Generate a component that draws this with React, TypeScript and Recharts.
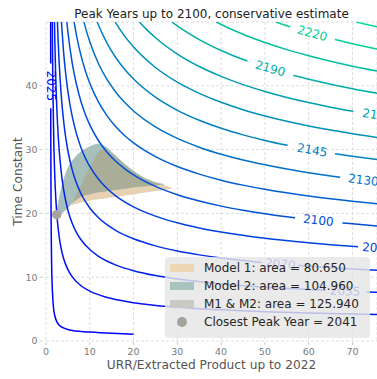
import { ComposedChart, Line, Area, Scatter, XAxis, YAxis, CartesianGrid } from 'recharts';

type Pt = [number, number | null];

// contour levels (peak year) and their winter-colormap colours
const levels = [2025, 2040, 2055, 2070, 2085, 2100, 2115, 2130, 2145, 2160, 2175, 2190, 2205, 2220, 2235];
const lineColors = [
  '#0000ff', '#0010f7', '#0020ef', '#0030e7', '#0040df', '#0050d7', '#0060cf', '#0070c7',
  '#0080bf', '#008fb7', '#009faf', '#00afa7', '#00bf9f', '#00cf97', '#00df8f',
];

// [URR/extracted, time constant]; null = gap left for the inline label
const c2025: Pt[] = [[1.062, 50], [1.0714, 43.5], [1.078, null], [1.0857, 36.5], [1.1, 31.5], [1.15, 21.5], [1.2, 16.5], [1.3, 11.4], [1.4, 8.9], [1.5, 7.4], [1.7, 5.3], [2, 4.0], [2.5, 3.0], [3, 2.5], [4, 2.05], [5, 1.8], [6, 1.65], [8, 1.5], [10, 1.4], [15, 1.2], [20, 1.05]];
const c2040: Pt[] = [[1.433, 50], [1.5, 44.39], [1.6, 38.3], [1.8, 30.62], [2, 25.97], [2.2, 22.83], [2.5, 19.64], [3, 16.38], [3.5, 14.37], [4, 12.98], [5, 11.18], [6, 10.05], [8, 8.66], [10, 7.82], [14, 6.82], [20, 6.01], [30, 5.29], [40, 4.88], [50, 4.6], [60, 4.4], [70, 4.24], [76, 4.16]];
const c2055: Pt[] = [[1.935, 50], [2, 47.61], [2.2, 41.85], [2.5, 36.01], [2.8, 32.05], [3, 30.04], [3.5, 26.34], [4, 23.8], [5, 20.5], [6, 18.42], [7, 16.96], [8, 15.87], [10, 14.33], [12, 13.28], [14, 12.5], [16, 11.9], [20, 11.02], [25, 10.25], [30, 9.7], [40, 8.95], [50, 8.44], [60, 8.06], [63.8, 7.94], [68.3, null], [73.2, 7.69], [76, 7.62]];
const c2070: Pt[] = [[2.612, 50], [2.8, 46.62], [3, 43.69], [3.5, 38.31], [4, 34.62], [4.5, 31.91], [5, 29.82], [6, 26.79], [7, 24.67], [8, 23.08], [10, 20.85], [12, 19.32], [14, 18.19], [16, 17.31], [20, 16.02], [25, 14.91], [30, 14.11], [35, 13.5], [40, 13.01], [45, 12.61], [49.3, 12.31], [53.5, null], [57.6, 11.84], [60, 11.72], [65, 11.5], [70, 11.3], [76, 11.08]];
const c2085: Pt[] = [[3.525, 50], [4, 45.44], [4.5, 41.89], [5, 39.14], [6, 35.16], [7, 32.38], [8, 30.3], [9, 28.67], [10, 27.36], [12, 25.35], [14, 23.87], [16, 22.72], [20, 21.03], [25, 19.57], [30, 18.52], [35, 17.72], [40, 17.08], [50, 16.1], [60, 15.39], [65, 15.09], [71.3, 14.76]];
const c2100: Pt[] = [[4.759, 50], [5, 48.46], [6, 43.53], [7, 40.08], [8, 37.51], [9, 35.5], [10, 33.87], [12, 31.39], [14, 29.56], [16, 28.13], [18, 26.99], [20, 26.04], [25, 24.23], [30, 22.93], [35, 21.94], [40, 21.14], [45, 20.49], [50, 19.94], [55, 19.46], [56.9, 19.3], [62.2, null], [67.7, 18.5], [70, 18.36], [76, 18.01]];
const c2115: Pt[] = [[6.42, 50], [7, 47.79], [8, 44.72], [9, 42.33], [10, 40.39], [12, 37.43], [14, 35.24], [16, 33.54], [18, 32.18], [20, 31.04], [25, 28.89], [30, 27.34], [35, 26.16], [40, 25.21], [45, 24.43], [50, 23.77], [60, 22.71], [70, 21.89], [76, 21.47]];
const c2130: Pt[] = [[8.67, 50], [9, 49.15], [10, 46.9], [12, 43.46], [14, 40.92], [16, 38.95], [18, 37.37], [20, 36.05], [25, 33.55], [30, 31.75], [35, 30.38], [40, 29.28], [45, 28.37], [50, 27.61], [55, 26.95], [60, 26.38], [65, 25.87], [67.2, 25.67]];
const c2145: Pt[] = [[11.7, 50], [12, 49.5], [14, 46.61], [16, 44.36], [18, 42.55], [20, 41.06], [25, 38.21], [30, 36.16], [35, 34.6], [40, 33.34], [45, 32.31], [50, 31.44], [55.2, 30.67], [60.8, null], [66, 29.36], [70, 28.95], [76, 28.4]];
const c2160: Pt[] = [[15.8, 50], [16, 49.77], [18, 47.74], [20, 46.07], [25, 42.87], [30, 40.57], [35, 38.82], [40, 37.41], [45, 36.25], [50, 35.28], [55, 34.44], [60, 33.71], [65, 33.06], [70, 32.48], [76, 31.87]];
const c2175: Pt[] = [[21.33, 50], [23, 48.8], [25, 47.53], [30, 44.98], [35, 43.03], [40, 41.48], [45, 40.19], [50, 39.11], [55, 38.18], [60, 37.37], [65, 36.65], [70.2, 35.99]];
const c2190: Pt[] = [[28.79, 50], [30, 49.39], [35, 47.25], [40, 45.54], [45, 44.13], [46, 43.88], [51.2, null], [56.5, 41.64], [60, 41.03], [65, 40.25], [70, 39.54], [76, 38.79]];
const c2205: Pt[] = [[38.86, 50], [40, 49.61], [45, 48.07], [50, 46.78], [55, 45.67], [60, 44.7], [65, 43.84], [70, 43.07], [76, 42.26]];
const c2220: Pt[] = [[52.46, 50], [55, 49.41], [55.8, 49.23], [60.8, null], [66, 47.26], [70, 46.6], [76, 45.72]];
const c2235: Pt[] = [[70.81, 50], [73, 49.64], [76, 49.18]];

const contours = [c2025, c2040, c2055, c2070, c2085, c2100, c2115, c2130, c2145, c2160, c2175, c2190, c2205, c2220, c2235];

// inline contour labels: [x, tau, level index, rotation]
const labelPts: [number, number, number, number][] = [
  [1.078, 40, 0, 90],
  [53.5, 12.06, 3, 4.7],
  [68.3, 7.8, 2, 2.3],
  [75.7, 14.56, 4, 3.8],
  [62.2, 18.9, 5, 6],
  [72.5, 25.21, 7, 6.8],
  [60.8, 29.9, 8, 10],
  [75.7, 35.36, 10, 9.3],
  [51.2, 42.7, 11, 16],
  [60.8, 48.2, 13, 15.5],
];

// feasible regions: [x, low tau, high tau]
const model1: [number, number, number][] = [[5.9, 21.3, 21.4], [7, 21.5, 23.0], [8, 21.7, 24.5], [10, 22.0, 27.2], [12, 22.2, 29.6], [13.5, 22.35, 30.2], [16, 22.6, 28.8], [19, 22.9, 27.0], [22, 23.2, 25.6], [25, 23.5, 24.8], [27, 23.7, 24.4], [28.8, 23.9, 24.0]];
const model2: [number, number, number][] = [[2.4, 19.4, 20.4], [3, 19.6, 22.5], [3.5, 19.9, 24.0], [4, 20.2, 25.3], [5, 20.8, 27.2], [6, 21.6, 28.3], [8, 22.6, 29.7], [10, 23.0, 30.5], [12, 23.3, 30.9], [14, 23.5, 30.3], [16, 23.7, 29.0], [19, 24.0, 27.2], [22, 24.2, 25.8], [25, 24.4, 24.9], [27, 24.5, 24.6]];
const overlap: [number, number, number][] = [[6, 21.6, 21.6], [8, 22.6, 24.5], [10, 23.0, 27.2], [12, 23.3, 29.6], [13.5, 23.45, 30.2], [14, 23.5, 29.9], [16, 23.7, 28.8], [19, 24.0, 27.0], [22, 24.2, 25.6], [25, 24.4, 24.8], [26.5, 24.5, 24.5]];

const closestPeak = [{ x: 2.45, y: 19.8 }];

const xTicks = [0, 10, 20, 30, 40, 50, 60, 70];
const yTicks = [0, 10, 20, 30, 40];

const legendItems = [
  { label: 'Model 1: area = 80.650', color: '#eed7b4', kind: 'patch' },
  { label: 'Model 2: area = 104.960', color: '#a6c3be', kind: 'patch' },
  { label: 'M1 & M2: area = 125.940', color: '#cacac4', kind: 'patch' },
  { label: 'Closest Peak Year = 2041', color: '#a4a49c', kind: 'dot' },
];

const FONT = 'DejaVu Sans, sans-serif';

const toArea = (rows: [number, number, number][]) => rows.map(([x, lo, hi]) => ({ x, v: [lo, hi] }));

const XTick = ({ x, payload }: any) => (
  <g>
    <line x1={x} x2={x} y1={342} y2={345} stroke="#c8c8c8" />
    <text x={x} y={354.5} textAnchor="middle" fontSize={9.5} fill="#7a7a7a" fontFamily={FONT}>{payload.value}</text>
  </g>
);

const YTick = ({ y, payload }: any) => (
  <g>
    <line x1={39.5} x2={42.5} y1={y} y2={y} stroke="#c8c8c8" />
    <text x={37.5} y={y + 3.4} textAnchor="end" fontSize={9.5} fill="#7a7a7a" fontFamily={FONT}>{payload.value}</text>
  </g>
);

const ContourLabel = ({ cx, cy, payload }: any) => (
  <text
    x={cx}
    y={cy}
    transform={`rotate(${payload.angle} ${cx} ${cy})`}
    textAnchor="middle"
    dominantBaseline="central"
    fontSize={12}
    fill={payload.color}
    fontFamily={FONT}
  >
    {payload.text}
  </text>
);

const PeakDot = ({ cx, cy }: any) => <circle cx={cx} cy={cy} r={4.7} fill="#a4a49c" />;

export default function App() {
  const labelData = labelPts.map(([x, y, i, angle]) => ({ x, y, angle, text: String(levels[i]), color: lineColors[i] }));

  return (
    <div style={{ position: 'absolute', left: 0, top: 0, width: 377, height: 379, background: '#fff', fontFamily: FONT }}>
      <ComposedChart width={377} height={379} margin={{ top: 22, right: 0, bottom: 0, left: 0 }}>
        <CartesianGrid stroke="#dddddd" strokeDasharray="3 2" />
        <XAxis type="number" dataKey="x" domain={[0, 75.6]} ticks={xTicks} allowDataOverflow height={38} axisLine={false} tickLine={false} tick={<XTick />} />
        <YAxis type="number" dataKey="y" domain={[0, 50]} ticks={yTicks} allowDataOverflow width={46} axisLine={false} tickLine={false} tick={<YTick />} />
        <Area data={toArea(model1)} dataKey="v" type="monotone" stroke="none" fill="#e6d2b3" fillOpacity={1} isAnimationActive={false} />
        <Area data={toArea(model2)} dataKey="v" type="monotone" stroke="none" fill="#a7bfbb" fillOpacity={1} isAnimationActive={false} />
        <Area data={toArea(overlap)} dataKey="v" type="monotone" stroke="none" fill="#aaae98" fillOpacity={1} isAnimationActive={false} />
        <Scatter data={closestPeak} shape={<PeakDot />} isAnimationActive={false} />
        {contours.map((c, i) => (
          <Line
            key={levels[i]}
            data={c.map(([x, y]) => ({ x, y }))}
            dataKey="y"
            type="monotone"
            stroke={lineColors[i]}
            strokeWidth={1.5}
            dot={false}
            activeDot={false}
            connectNulls={false}
            isAnimationActive={false}
          />
        ))}
        <Scatter data={labelData} shape={<ContourLabel />} isAnimationActive={false} />
      </ComposedChart>

      <svg width={377} height={379} style={{ position: 'absolute', left: 0, top: 0, pointerEvents: 'none' }}>
        <text x={211.5} y={18} textAnchor="middle" fontSize={12} fill="#222" fontFamily={FONT}>Peak Years up to 2100, conservative estimate</text>
        <text x={211.5} y={369} textAnchor="middle" fontSize={12.2} fill="#555" fontFamily={FONT}>URR/Extracted Product up to 2022</text>
        <text x={22} y={181.5} textAnchor="middle" fontSize={12.2} fill="#555" fontFamily={FONT} transform="rotate(-90 22 181.5)">Time Constant</text>
      </svg>

      <div style={{ position: 'absolute', left: 165, top: 257, width: 205, height: 81, background: 'rgba(229,229,229,0.82)', borderRadius: 4 }}>
        {legendItems.map((it, i) => (
          <div key={it.label} style={{ position: 'absolute', left: 0, top: 2.3 + i * 18, height: 18, width: 205, lineHeight: '18px', fontSize: 12, color: '#262626', whiteSpace: 'nowrap' }}>
            {it.kind === 'patch' ? (
              <span style={{ position: 'absolute', left: 5, top: 4.7, width: 24, height: 8.5, background: it.color }} />
            ) : (
              <span style={{ position: 'absolute', left: 12, top: 4, width: 10, height: 10, borderRadius: 5, background: it.color }} />
            )}
            <span style={{ position: 'absolute', left: 39, top: 0 }}>{it.label}</span>
          </div>
        ))}
      </div>
    </div>
  );
}
